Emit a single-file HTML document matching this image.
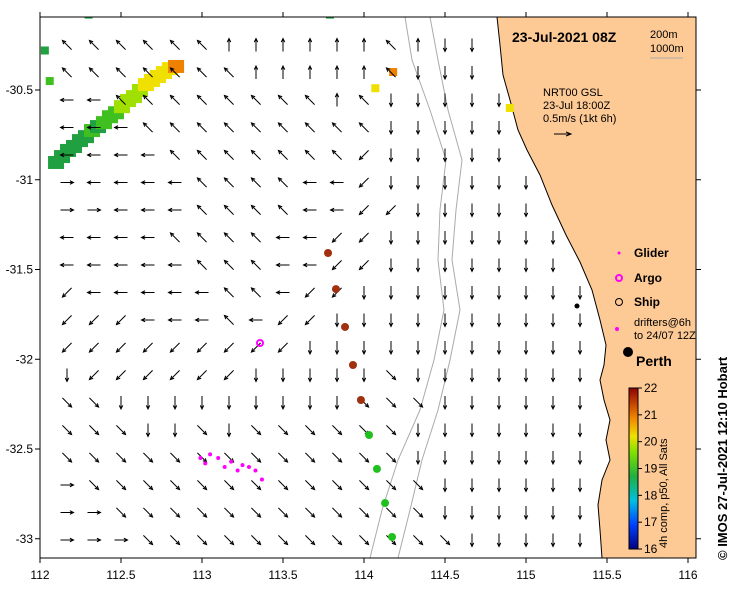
<!DOCTYPE html>
<html><head><meta charset="utf-8"><style>
body{margin:0;background:#fff;}
svg{display:block;font-family:"Liberation Sans",sans-serif;}
</style></head><body>
<svg id="map" width="739" height="592" viewBox="0 0 739 592" xmlns="http://www.w3.org/2000/svg">
<defs>
<clipPath id="pc"><rect x="40" y="17" width="656" height="541"/></clipPath>
<linearGradient id="cb" x1="0" y1="1" x2="0" y2="0">
<stop offset="0" stop-color="#000080"/><stop offset="0.15" stop-color="#0040ff"/><stop offset="0.3" stop-color="#00c0e0"/>
<stop offset="0.45" stop-color="#20b040"/><stop offset="0.6" stop-color="#80e000"/><stop offset="0.7" stop-color="#f0e000"/>
<stop offset="0.82" stop-color="#f08000"/><stop offset="1" stop-color="#900000"/></linearGradient>
</defs>
<g clip-path="url(#pc)">
<polygon fill="#fdc994" stroke="#000" stroke-width="1"
 points="497,17 500,45 503,75 510,100 518,130 527,150 540,175 552,205 566,235 580,262 592,290 600,320 606,345 604,365 600,380 604,400 610,420 606,440 610,460 602,480 598,505 600,530 602,558 700,558 700,17"/>
<polyline fill="none" stroke="#aaa" stroke-width="1" points="430,17 438,60 448,110 462,160 456,210 452,260 460,310 450,360 438,410 422,460 410,510 398,558"/>
<polyline fill="none" stroke="#aaa" stroke-width="1" points="405,17 412,60 430,110 446,160 440,210 438,260 444,310 434,360 420,410 398,460 382,510 370,558"/>
<g id="sst"></g>
<g id="arrows"></g>
<g id="drifters"></g>
<g id="glider"></g>
<circle cx="260" cy="343" r="3" fill="none" stroke="#ff00ff" stroke-width="2"/>
<circle cx="577" cy="306" r="2.5" fill="#000"/>
<circle cx="628" cy="352" r="5" fill="#000"/>
</g>
<rect x="40" y="17" width="656" height="541" fill="none" stroke="#000"/>
<g id="ticks" font-size="12"></g>
<text x="512" y="42" font-size="14" font-weight="bold">23-Jul-2021 08Z</text>
<text x="650" y="38" font-size="11">200m</text>
<text x="650" y="52" font-size="11">1000m</text>
<line x1="650" y1="58" x2="683" y2="58" stroke="#aaa"/>
<text x="543" y="96" font-size="11"><tspan x="543">NRT00 GSL</tspan><tspan x="543" dy="13">23-Jul 18:00Z</tspan><tspan x="543" dy="13">0.5m/s (1kt 6h)</tspan></text>
<line x1="554" y1="134" x2="570" y2="134" stroke="#000"/><polyline points="566,132 571,134 566,136" fill="none" stroke="#000"/>
<g font-size="12" font-weight="bold">
<circle cx="619" cy="253" r="1.5" fill="#f0f"/><text x="634" y="257">Glider</text>
<circle cx="619" cy="278" r="3" fill="none" stroke="#f0f" stroke-width="2"/><text x="634" y="282">Argo</text>
<circle cx="619" cy="302" r="3.5" fill="none" stroke="#000"/><text x="634" y="306">Ship</text>
<text x="634" y="326" font-weight="normal" font-size="11">drifters@6h</text>
<text x="634" y="339" font-weight="normal" font-size="11">to 24/07 12Z</text>
<circle cx="617" cy="329" r="2" fill="#f0f"/>
<text x="636" y="366" font-size="14">Perth</text>
</g>
<rect x="629" y="388" width="9" height="161" fill="url(#cb)" stroke="#000"/>
<g id="cbt" font-size="12"></g>
<text transform="translate(667,548) rotate(-90)" font-size="11">4h comp, p50, All Sats</text>
<text transform="translate(727,560) rotate(-90)" font-size="13" font-weight="bold">© IMOS 27-Jul-2021 12:10 Hobart</text>
</svg>
<script>
const xTicks=[112,112.5,113,113.5,114,114.5,115,115.5,116];
const yTicks=[-30.5,-31,-31.5,-32,-32.5,-33];
const cbTicks=[16,17,18,19,20,21,22];
const gridDirs=[
"33333322222232666677","33333332222236666677","44333333332366666667","44433333333366666666",
"44443333333566666666","04444333344566666666","00444333344556666666","44443333445566666666",
"44444333445566666666","54444433455666666666","55544434556666666666","55555555566666666666",
"65555556666676666666","77666666666777666666","77766767777776666666","77777777777776666666",
"07777777777777666666","00777777777777666666","00077777777777766666"];
const drifterLon=[113.778,113.827,113.883,113.932,113.981,114.031,114.080,114.130,114.173];
const drifterLat=[-31.408,-31.609,-31.820,-32.032,-32.227,-32.422,-32.611,-32.801,-32.990];
const drifterTemp=[21.5,21.5,21.5,21.5,21.5,19,19,19,19];
const gliderLon=[112.99,113.02,113.05,113.1,113.14,113.18,113.22,113.25,113.29,113.33,113.37];
const gliderLat=[-32.55,-32.58,-32.53,-32.55,-32.6,-32.57,-32.62,-32.59,-32.6,-32.62,-32.67];
const sstLon=[112.099,112.136,112.173,112.210,112.247,112.284,112.321,112.358,112.395,112.432,112.469,112.506,112.543,112.580,112.617,112.654,112.691,112.728,112.765,112.802,112.840,112.03,112.3,113.79,114.07,114.18,114.9,112.06];
const sstLat=[-30.901,-30.868,-30.834,-30.812,-30.779,-30.757,-30.723,-30.701,-30.679,-30.646,-30.624,-30.590,-30.556,-30.534,-30.500,-30.467,-30.444,-30.422,-30.400,-30.378,-30.366,-30.28,-30.08,-30.08,-30.49,-30.40,-30.6,-30.45];
const sstVal=[18.8,18.9,19,19.1,19,19.1,19.2,19.1,19.3,19.4,19.5,19.6,19.8,20,20.1,20.3,20.5,20.7,20.6,20.8,21,19,19,19,20.2,21,20.8,19.4];
const X=v=>40+(v-112)*162, Y=v=>90+(-30.5-v)*179.5;
const NS='http://www.w3.org/2000/svg';
function mk(t,a,p){const e=document.createElementNS(NS,t);for(const k in a)e.setAttribute(k,a[k]);p.appendChild(e);return e;}
function col(t){const s=[[16,'#000080'],[17,'#0040ff'],[18,'#00c0c0'],[18.7,'#20a040'],[19.2,'#40c020'],[19.6,'#a0e000'],[20.2,'#f0e000'],[21,'#f08000'],[22,'#900000']];
 for(let i=s.length-1;i>=0;i--)if(t>=s[i][0])return s[i][1];return s[0][1];}
function coast(y){const p=[[17,497],[75,503],[130,518],[175,540],[235,566],[290,592],[345,606],[400,604],[460,610],[558,602]];
 for(let i=1;i<p.length;i++)if(y<=p[i][0]){const f=(y-p[i-1][0])/(p[i][0]-p[i-1][0]);return p[i-1][1]+f*(p[i][1]-p[i-1][1]);}return 600;}
const tk=document.getElementById('ticks');
xTicks.forEach(v=>{const x=X(v);mk('line',{x1:x,y1:558,x2:x,y2:563,stroke:'#000'},tk);mk('line',{x1:x,y1:17,x2:x,y2:12,stroke:'#000'},tk);
 const t=mk('text',{x:x,y:579,'text-anchor':'middle'},tk);t.textContent=v;
 
 });
yTicks.forEach(v=>{const y=Y(v);mk('line',{x1:35,y1:y,x2:40,y2:y,stroke:'#000'},tk);mk('line',{x1:696,y1:y,x2:701,y2:y,stroke:'#000'},tk);
 const t=mk('text',{x:33,y:y+4,'text-anchor':'end'},tk);t.textContent=v;
 
 });
const cbt=document.getElementById('cbt');
cbTicks.forEach(v=>{const y=549-(v-16)/6*161;mk('line',{x1:638,y1:y,x2:642,y2:y,stroke:'#000'},cbt);
 const t=mk('text',{x:644,y:y+4},cbt);t.textContent=v;
 
 });
const sg=document.getElementById('sst');
sstLon.forEach((lo,i)=>{const big=i<21;const r=mk('rect',{x:X(lo)-(big?8:4),y:Y(sstLat[i])-(big?6:4),width:big?16:8,height:big?13:8,fill:col(sstVal[i])},sg);
 
 });
const ag=document.getElementById('arrows');
gridDirs.forEach((row,r)=>{for(let c=0;c<row.length;c++){const x=67+c*27,y=45+r*27.5;if(x>coast(y)-8)continue;
 const a=+row[c]*Math.PI/4,L=13,dx=Math.cos(a)*L/2,dy=-Math.sin(a)*L/2;
 const g=mk('g',{},ag);
 
 
 mk('line',{x1:x-dx,y1:y-dy,x2:x+dx,y2:y+dy,stroke:'#000','stroke-width':1},g);
 const hx=x+dx,hy=y+dy,b=a+Math.PI;
 mk('polyline',{points:`${hx+Math.cos(b+0.45)*4},${hy-Math.sin(b+0.45)*4} ${hx},${hy} ${hx+Math.cos(b-0.45)*4},${hy-Math.sin(b-0.45)*4}`,fill:'none',stroke:'#000'},g);}});
const dg=document.getElementById('drifters');
drifterLon.forEach((lo,i)=>{const c=mk('circle',{cx:X(lo),cy:Y(drifterLat[i]),r:4,fill:drifterTemp[i]>20?'#a03010':'#20c020'},dg);
 
 });
const gg=document.getElementById('glider');
gliderLon.forEach((lo,i)=>{const c=mk('circle',{cx:X(lo),cy:Y(gliderLat[i]),r:2,fill:'#ff00ff'},gg);
 
 });
</script>
</body></html>
